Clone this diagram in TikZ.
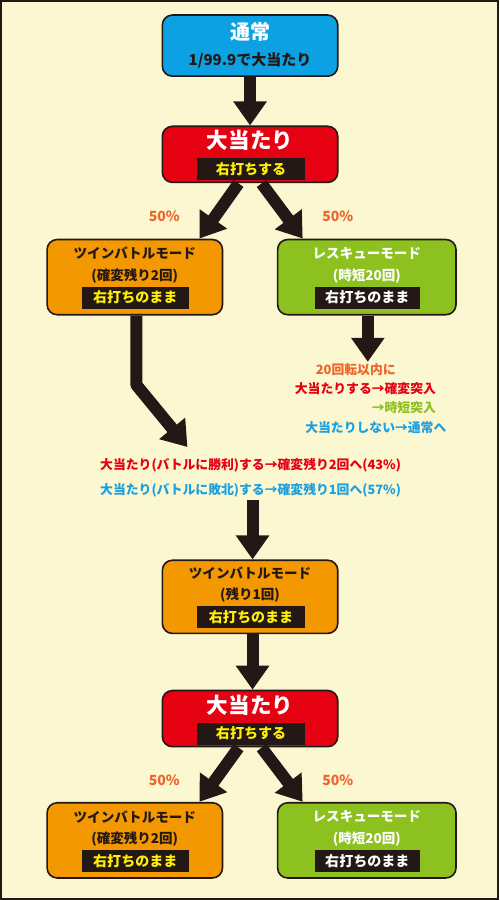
\documentclass[tikz,border=0pt]{standalone}
\usepackage{fontspec}
\setmainfont{Noto Sans CJK JP}
\usetikzlibrary{arrows.meta}
\definecolor{cream}{HTML}{FBF7D1}
\definecolor{ink}{HTML}{231815}
\definecolor{tsujoblue}{HTML}{0BA1E2}
\definecolor{atarired}{HTML}{E50012}
\definecolor{twinorange}{HTML}{F39800}
\definecolor{rescuegreen}{HTML}{8CC11F}
\definecolor{bandyellow}{HTML}{FFF100}
\definecolor{pctorange}{HTML}{F0642A}
\definecolor{noteblue}{HTML}{1BA0E1}
\begin{document}
\begin{tikzpicture}[
  x = 1pt, y = -1pt,
  modebox/.style = {
    draw = ink,
    line width = 1.6pt,
    rounded corners = 10pt,
    inner sep = 0pt,
    minimum width = 175pt
  },
  band/.style = {
    fill = ink,
    inner sep = 0pt,
    minimum width = 107pt,
    minimum height = 22pt,
    font = \fontsize{14}{14}\selectfont\bfseries
  },
  boxtext/.style = {
    inner sep = 0pt,
    font = \fontsize{13.5}{14}\selectfont\bfseries
  },
  pct/.style = {
    inner sep = 0pt,
    text = pctorange,
    font = \fontsize{14}{14}\selectfont\bfseries
  },
  note/.style = {
    inner sep = 0pt,
    font = \fontsize{12.8}{13}\selectfont\bfseries
  },
  flow/.style = {
    draw = ink,
    line width = 12pt,
    line join = bevel,
    -{Triangle[width = 32pt, length = 24pt]}
  }
]
  % background and frame
  \draw[draw = ink, line width = 2pt, fill = cream] (2, 2) rectangle (498, 898);

  % normal mode
  \node[modebox, fill = tsujoblue, minimum height = 61pt] (tsujo) at (250.5, 46.5) {};
  \node[boxtext, text = white, font = \fontsize{20}{20}\selectfont\bfseries] (tsujoT) at (250.5, 33) {通常};
  \node[boxtext, text = ink, font = \fontsize{15}{15}\selectfont\bfseries] (tsujoS) at (250.5, 61) {1/99.9で大当たり};

  % first jackpot
  \node[modebox, fill = atarired, minimum height = 56pt] (atariA) at (250.5, 155) {};
  \node[boxtext, text = white, font = \fontsize{21.5}{21}\selectfont\bfseries] (atariAT) at (250.5, 141) {大当たり};
  \node[band, text = bandyellow] (atariAB) at (251.5, 170) {右打ちする};

  \draw[flow] (tsujo.south) -- (atariA.north);

  % twin battle mode, upper
  \node[modebox, fill = twinorange, minimum height = 75pt] (twinA) at (135.5, 277.5) {};
  \node[boxtext, text = ink] (twinAT) at (135.5, 254) {ツインバトルモード};
  \node[boxtext, text = ink] (twinAS) at (135.5, 276) {(確変残り2回)};
  \node[band, text = bandyellow] (twinAB) at (136, 298) {右打ちのまま};

  % rescue mode, upper
  \node[modebox, fill = rescuegreen, minimum height = 75pt, minimum width = 178pt] (rescueA) at (367, 277.5) {};
  \node[boxtext, text = white] (rescueAT) at (367, 254) {レスキューモード};
  \node[boxtext, text = white] (rescueAS) at (367, 276) {(時短20回)};
  \node[band, text = white, minimum width = 105pt] (rescueAB) at (367.5, 298) {右打ちのまま};

  \node[pct] (pctAL) at (165, 217) {50\%};
  \node[pct] (pctAR) at (338, 217) {50\%};

  \coordinate (splitAL) at (239, 184);
  \coordinate (splitAR) at (262, 184);
  \coordinate (tipAL) at (200, 239);
  \coordinate (tipAR) at (303, 239);
  \draw[flow] (splitAL) -- (tipAL);
  \draw[flow] (splitAR) -- (tipAR);

  % rescue result
  \coordinate (tipR) at (368, 362);
  \draw[flow] (rescueA.south -| tipR) -- (tipR);
  \node[note, text = pctorange] (noteR1) at (356, 370) {20回転以内に};
  \node[note, text = atarired, anchor = west] (noteR2) at (295, 389) {大当たりする→確変突入};
  \node[note, text = rescuegreen, anchor = east] (noteR3) at (noteR2.east |- 0, 408) {→時短突入};
  \node[note, text = noteblue] (noteR4) at (376, 428) {大当たりしない→通常へ};

  % battle result
  \coordinate (bendT) at (137, 385);
  \coordinate (tipT) at (188, 447);
  \draw[flow] (twinA.south -| bendT) -- (bendT) -- (tipT);
  \node[note, text = atarired] (noteT1) at (251, 465) {大当たり(バトルに勝利)する→確変残り2回へ(43\%)};
  \node[note, text = noteblue] (noteT2) at (251, 490) {大当たり(バトルに敗北)する→確変残り1回へ(57\%)};

  % twin battle mode, last round
  \node[modebox, fill = twinorange, minimum height = 73pt] (twinB) at (250.5, 596.5) {};
  \node[boxtext, text = ink] (twinBT) at (250.5, 573) {ツインバトルモード};
  \node[boxtext, text = ink] (twinBS) at (250.5, 595) {(残り1回)};
  \node[band, text = bandyellow] (twinBB) at (251.5, 616.5) {右打ちのまま};

  \coordinate (startT) at (253, 500);
  \draw[flow] (startT) -- (startT |- twinB.north);

  % second jackpot
  \node[modebox, fill = atarired, minimum height = 56pt] (atariB) at (250.5, 718) {};
  \node[boxtext, text = white, font = \fontsize{21.5}{21}\selectfont\bfseries] (atariBT) at (250.5, 705) {大当たり};
  \node[band, text = bandyellow] (atariBB) at (251.5, 733) {右打ちする};

  \draw[flow] (twinB.south -| startT) -- (atariB.north -| startT);

  % final split
  \node[modebox, fill = twinorange, minimum height = 75pt] (twinC) at (135.5, 839.5) {};
  \node[boxtext, text = ink] (twinCT) at (135.5, 816) {ツインバトルモード};
  \node[boxtext, text = ink] (twinCS) at (135.5, 838) {(確変残り2回)};
  \node[band, text = bandyellow] (twinCB) at (136, 860) {右打ちのまま};

  \node[modebox, fill = rescuegreen, minimum height = 75pt, minimum width = 178pt] (rescueC) at (367, 839.5) {};
  \node[boxtext, text = white] (rescueCT) at (367, 816) {レスキューモード};
  \node[boxtext, text = white] (rescueCS) at (367, 838) {(時短20回)};
  \node[band, text = white, minimum width = 105pt] (rescueCB) at (367.5, 860) {右打ちのまま};

  \node[pct] (pctCL) at (165, 780) {50\%};
  \node[pct] (pctCR) at (338, 780) {50\%};

  \coordinate (splitCL) at (239, 747);
  \coordinate (splitCR) at (262, 747);
  \coordinate (tipCL) at (200, 801);
  \coordinate (tipCR) at (303, 801);
  \draw[flow] (splitCL) -- (tipCL);
  \draw[flow] (splitCR) -- (tipCR);
\end{tikzpicture}
\end{document}
